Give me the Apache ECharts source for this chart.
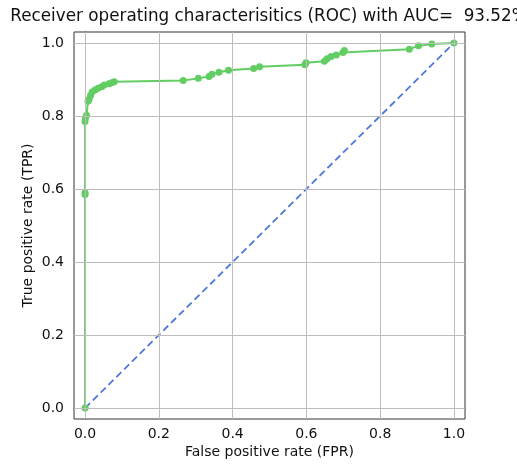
<!DOCTYPE html>
<html>
<head>
<meta charset="utf-8">
<script src="https://cdn.jsdelivr.net/npm/echarts@6/dist/echarts.min.js"></script>
<style>
  html, body { margin: 0; padding: 0; background: #fff; }
  #chart { width: 517px; height: 464px; }
</style>
</head>
<body>
<div id="chart"></div>
<script>
// ROC curve points (false positive rate, true positive rate)
const fpr = [0, 0, 0, 0, 0.001, 0.004, 0.008, 0.011, 0.015, 0.019, 0.027, 0.035, 0.045, 0.052,
  0.065, 0.072, 0.079, 0.266, 0.307, 0.336, 0.344, 0.363, 0.389, 0.457, 0.473, 0.596, 0.599,
  0.649, 0.656, 0.667, 0.681, 0.699, 0.703, 0.879, 0.904, 0.940, 1.0];
const tpr = [0, 0.585, 0.59, 0.785, 0.795, 0.802, 0.840, 0.846, 0.857, 0.866, 0.871, 0.876, 0.880, 0.885,
  0.888, 0.891, 0.894, 0.897, 0.903, 0.908, 0.914, 0.920, 0.925, 0.930, 0.935, 0.940, 0.946,
  0.950, 0.957, 0.963, 0.967, 0.974, 0.979, 0.983, 0.992, 0.997, 1.0];

// chance line
const chanceX = [0, 1];
const chanceY = [0, 1];

const aucPercent = '93.52';
const xTicks = [0, 0.2, 0.4, 0.6, 0.8, 1.0];
const yTicks = [0, 0.2, 0.4, 0.6, 0.8, 1.0];

const FONT = 'DejaVu Sans';
const TEXT = '#111';
const FRAME = '#333';

const rocData = fpr.map((x, i) => [x, tpr[i]]);
const chanceData = chanceX.map((x, i) => [x, chanceY[i]]);

const gridLines = xTicks.map(v => ({ xAxis: v })).concat(yTicks.map(v => ({ yAxis: v })));

const chart = echarts.init(document.getElementById('chart'), null, { renderer: 'canvas' });
chart.setOption({
  animation: false,
  backgroundColor: '#fff',
  title: {
    text: 'Receiver operating characterisitics (ROC) with AUC=  ' + aucPercent + '%',
    left: 269,
    top: 8,
    padding: 0,
    textAlign: 'center',
    textStyle: { fontFamily: FONT, fontSize: 16.8, fontWeight: 'normal', color: TEXT }
  },
  grid: {
    left: 74, top: 32, width: 391, height: 387,
    show: true, borderColor: FRAME, borderWidth: 1, backgroundColor: 'transparent'
  },
  xAxis: {
    type: 'value', min: -0.03, max: 1.03,
    name: 'False positive rate (FPR)', nameLocation: 'middle', nameGap: 26,
    nameMoveOverlap: false,
    nameTextStyle: { fontFamily: FONT, fontSize: 14, color: TEXT },
    axisLine: { show: true, lineStyle: { color: FRAME, width: 1 } },
    axisTick: { show: true, length: 4, customValues: xTicks, lineStyle: { color: FRAME } },
    axisLabel: {
      customValues: xTicks, margin: 8,
      fontFamily: FONT, fontSize: 14, color: TEXT,
      formatter: v => v.toFixed(1)
    },
    splitLine: { show: false }
  },
  yAxis: {
    type: 'value', min: -0.03, max: 1.03,
    name: 'True positive rate (TPR)', nameLocation: 'middle', nameGap: 39,
    nameMoveOverlap: false,
    nameTextStyle: { fontFamily: FONT, fontSize: 14, color: TEXT },
    axisLine: { show: true, lineStyle: { color: FRAME, width: 1 } },
    axisTick: { show: true, length: 4, customValues: yTicks, lineStyle: { color: FRAME } },
    axisLabel: {
      customValues: yTicks, margin: 10,
      fontFamily: FONT, fontSize: 14, color: TEXT,
      formatter: v => v.toFixed(1)
    },
    splitLine: { show: false }
  },
  series: [
    {
      // grid lines at the tick positions
      type: 'line', data: [], z: 1, silent: true,
      markLine: {
        silent: true, symbol: 'none', animation: false,
        label: { show: false },
        lineStyle: { color: '#bdbdbd', width: 1, type: 'solid' },
        emphasis: { disabled: true },
        data: gridLines
      }
    },
    {
      type: 'line', data: chanceData, z: 2, silent: true,
      showSymbol: false,
      lineStyle: { color: '#4a78dc', width: 1.8, type: [7, 4] }
    },
    {
      type: 'line', data: rocData, z: 3, silent: true,
      symbol: 'circle', symbolSize: 7, showSymbol: true,
      lineStyle: { color: '#62cd62', width: 2 },
      itemStyle: { color: '#62cd62' }
    }
  ]
});
</script>
</body>
</html>
